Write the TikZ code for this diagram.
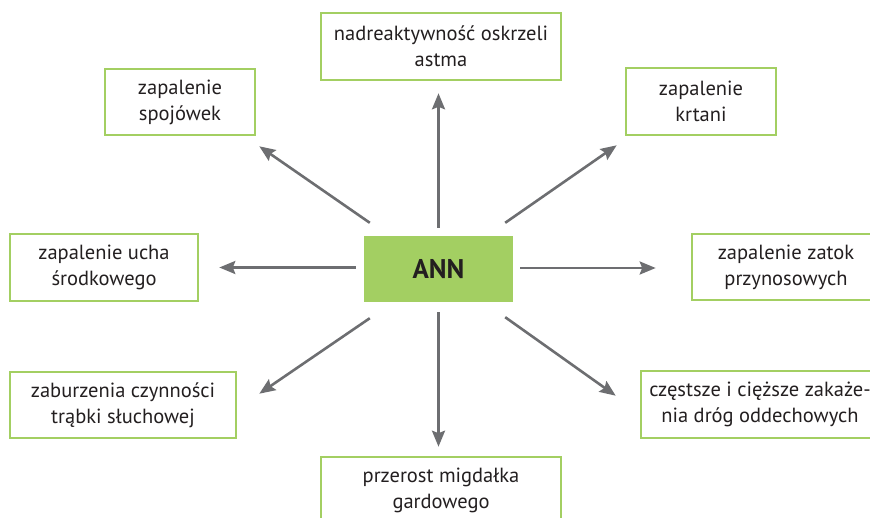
\documentclass[tikz,border=0pt]{standalone}
\usepackage{fontspec}
\setmainfont{PT Sans}
\usetikzlibrary{arrows.meta}
\definecolor{boxgreen}{HTML}{A3CF62}
\definecolor{arrgray}{HTML}{6D6E71}
\definecolor{txt}{HTML}{231F20}
\begin{document}
\begin{tikzpicture}[x=1pt,y=-1pt,
  lbox/.style={draw=boxgreen, line width=2.6pt, fill=white, inner sep=0pt,
    text=txt, align=center, font=\fontsize{20.5}{26}\selectfont},
  annbox/.style={fill=boxgreen, inner sep=0pt, minimum width=149pt, minimum height=66pt,
    text=txt, font=\fontsize{27}{30}\selectfont\bfseries},
  arr/.style={draw=arrgray, line width=2.6pt, -{Stealth[length=16pt,width=13pt,inset=2.5pt]}}
]
\useasboundingbox (0,0) rectangle (870,517);
\begin{scope}
\clip (0,0) rectangle (870,517);
\node[annbox] (ann) at (438.5,269) {ANN};
\node[lbox, minimum width=240pt, minimum height=67pt] (top) at (441,46.5) {nadreaktywność oskrzeli\\astma};
\node[lbox, minimum width=150pt, minimum height=66pt] (spoj) at (180,102) {zapalenie\\spojówek};
\node[lbox, minimum width=150pt, minimum height=67pt] (krt) at (701,101.5) {zapalenie\\krtani};
\node[lbox, minimum width=188pt, minimum height=67pt] (ucha) at (104,267.5) {zapalenie ucha\\środkowego};
\node[lbox, minimum width=188pt, minimum height=66pt] (zat) at (786,267) {zapalenie zatok\\przynosowych};
\node[lbox, minimum width=226pt, minimum height=66pt] (zab) at (123,405) {zaburzenia czynności\\trąbki słuchowej};
\node[lbox, minimum width=238pt, minimum height=67pt] (cz) at (760,404.5) {częstsze i cięższe zakaże-\\nia dróg oddechowych};
\node[lbox, minimum width=240pt, minimum height=67pt] (bot) at (441,490.5) {przerost migdałka\\gardowego};
\end{scope}
\draw[arr, shorten <=8pt, shorten >=12pt] (ann.north) -- (ann.north |- top.south);
\draw[arr, shorten <=10pt, shorten >=9pt] (ann.south) -- (ann.south |- bot.north);
\draw[arr, shorten <=8pt, shorten >=20pt] ([yshift=1.5pt]ann.west) -- ([yshift=1.5pt]ann.west -| ucha.east);
\draw[arr, shorten <=7pt, shorten >=35pt] ([yshift=1pt]ann.east) -- ([yshift=1pt]ann.east -| zat.west);
\draw[arr] ([shift={(6,-13)}]ann.north west) -- ([shift={(3,10)}]spoj.south east);
\draw[arr] ([shift={(-8,-13)}]ann.north east) -- ([shift={(-8,9)}]krt.south west);
\draw[arr] ([shift={(6,16)}]ann.south west) -- ([shift={(22,23)}]zab.north east);
\draw[arr] ([shift={(-8,15)}]ann.south east) -- ([shift={(-24,26)}]cz.north west);
\end{tikzpicture}
\end{document}
